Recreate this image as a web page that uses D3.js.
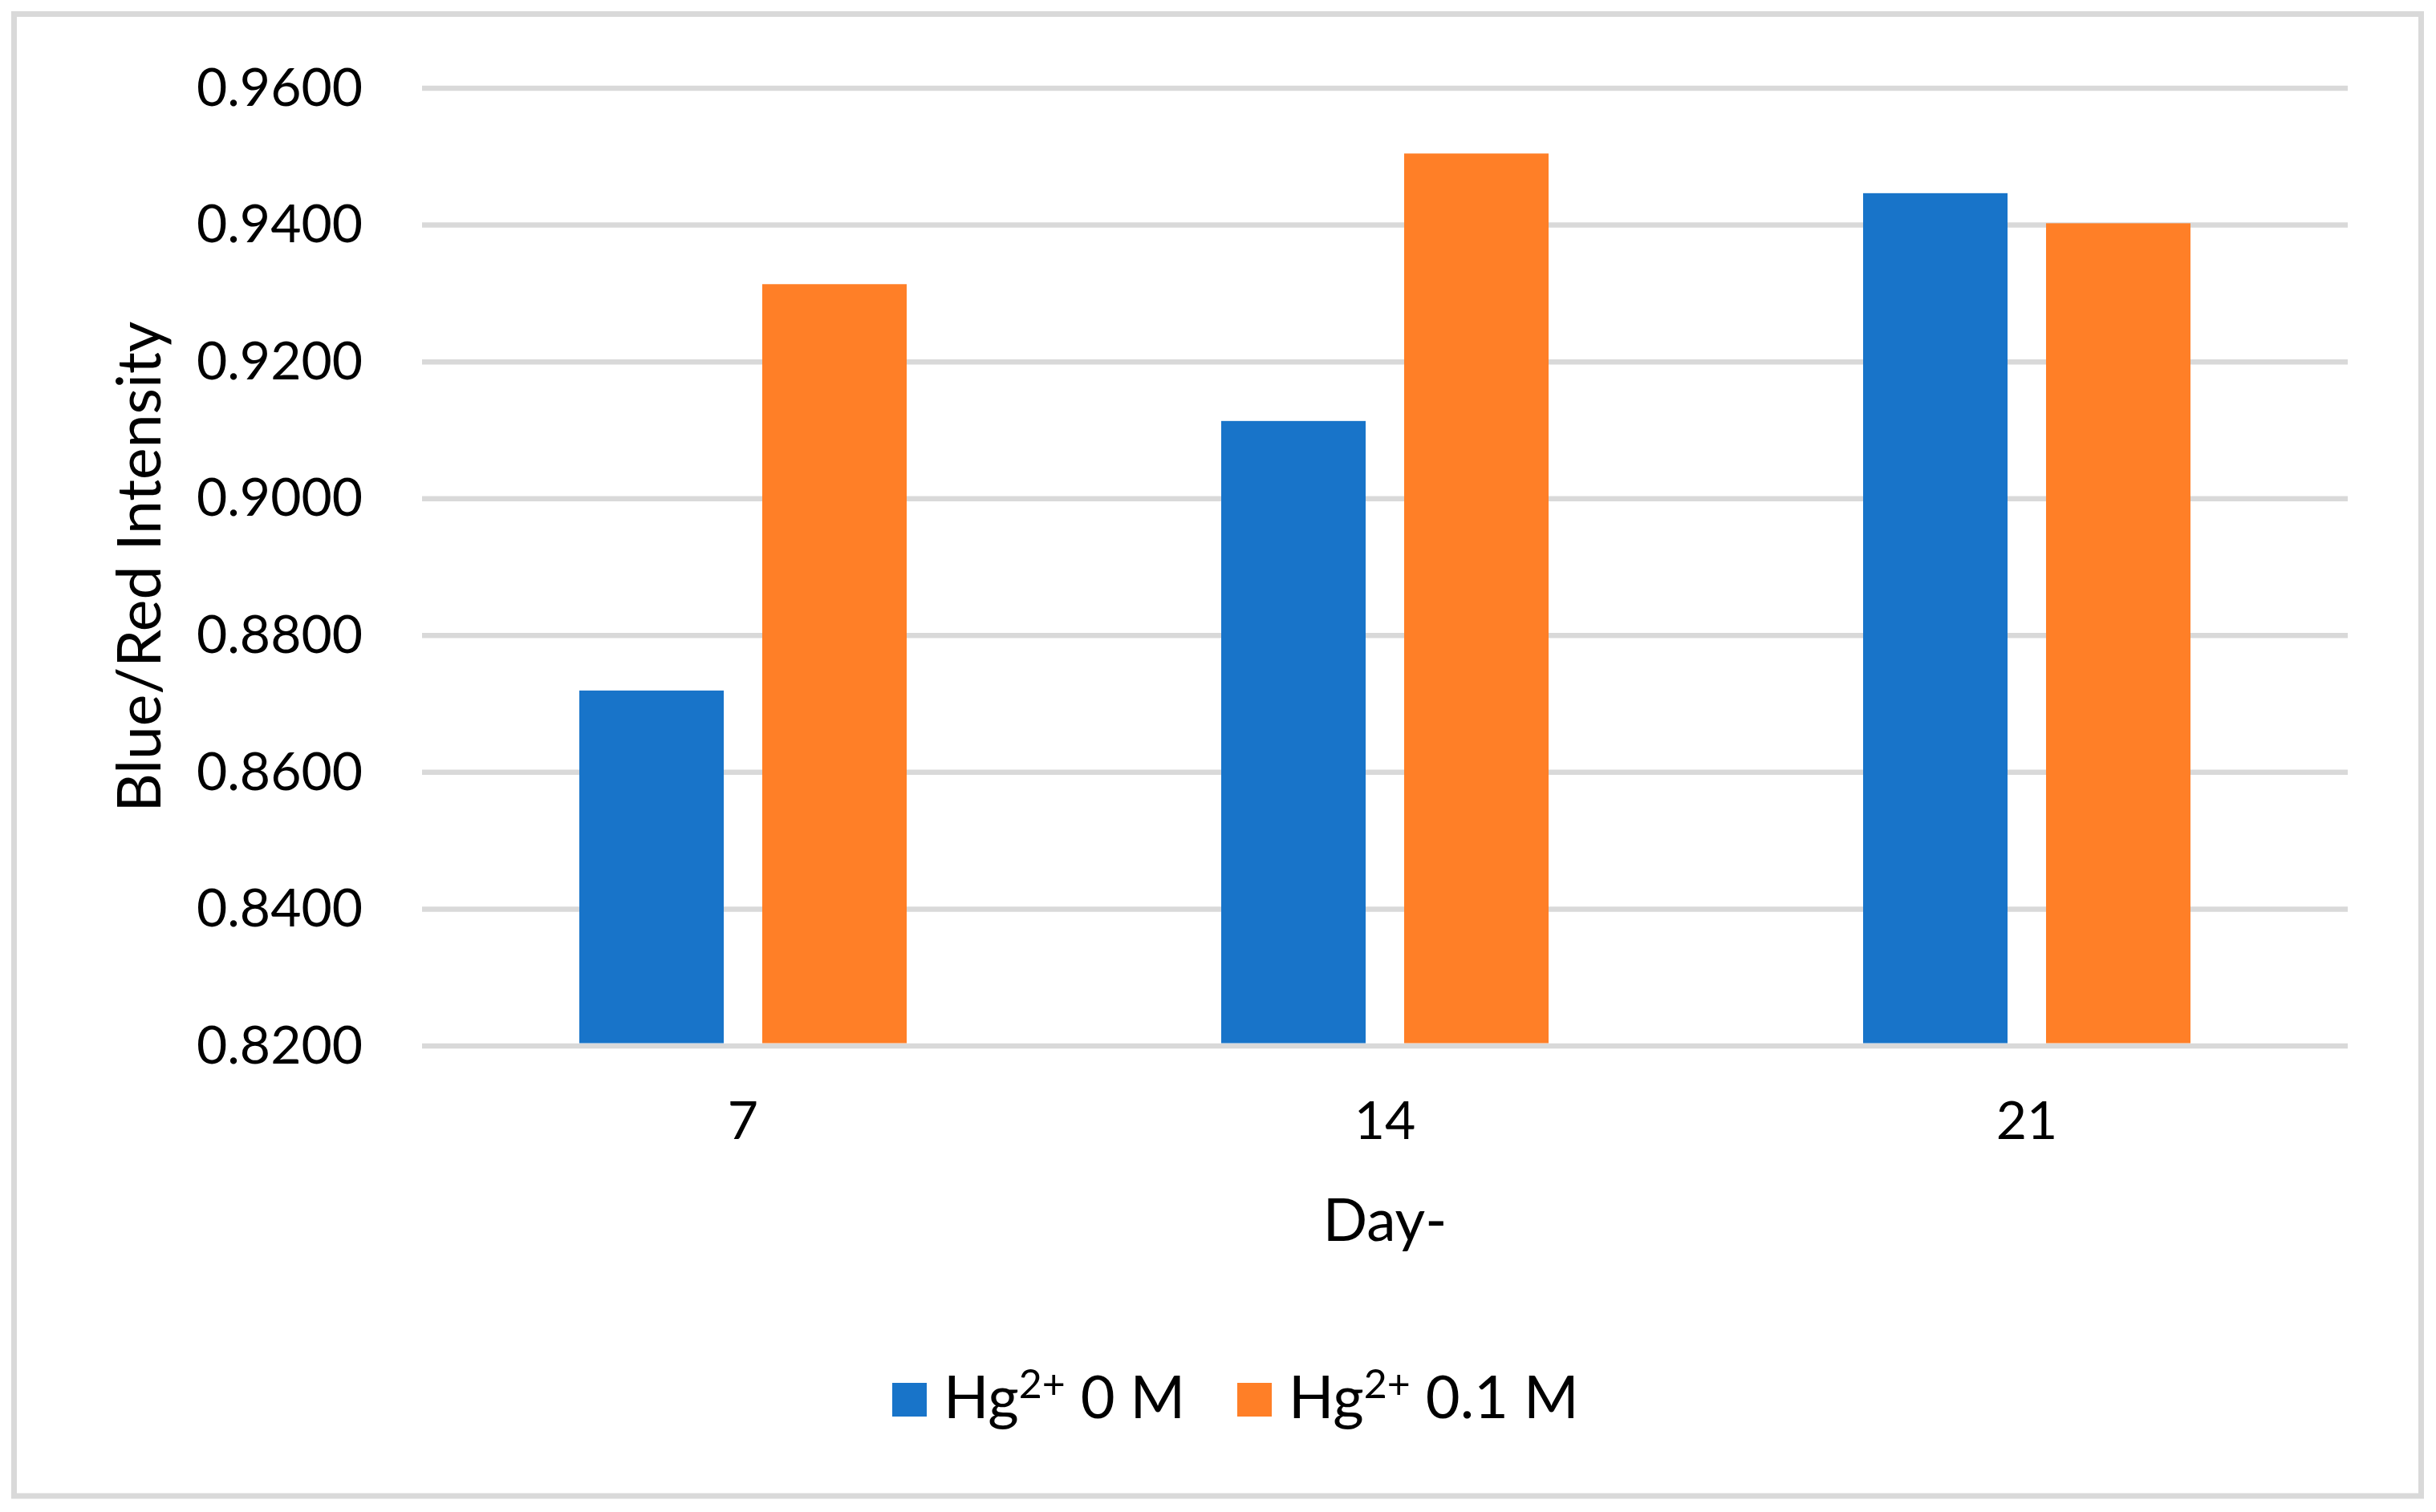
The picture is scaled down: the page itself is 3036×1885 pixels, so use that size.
<!DOCTYPE html>
<html>
<head>
<meta charset="utf-8">
<script src="https://cdn.jsdelivr.net/npm/d3@7"></script>
<style>
  html, body { margin: 0; padding: 0; background: #ffffff; }
  svg { display: block; }
  text { font-family: Lato, "Open Sans", "Liberation Sans", sans-serif; fill: #000; }
</style>
</head>
<body>
<svg id="chart" width="3036" height="1885"></svg>
<script>
// ---- data ----
const categories = ["7", "14", "21"];
const seriesNames = ["0 M", "0.1 M"];
const seriesHg0 = [0.8719, 0.9113, 0.9446];
const seriesHg01 = [0.9313, 0.9504, 0.9402];
const yTickValues = [0.82, 0.84, 0.86, 0.88, 0.90, 0.92, 0.94, 0.96];
const xTitle = "Day-";
const yTitle = "Blue/Red Intensity";

const colors = ["#1874c9", "#ff7f27"];
const seriesValues = [seriesHg0, seriesHg01];

const svg = d3.select("#chart");

// outer border
svg.append("rect")
  .attr("x", 17.5).attr("y", 17.5)
  .attr("width", 3000).attr("height", 1847.5)
  .attr("fill", "#ffffff")
  .attr("stroke", "#d9d9d9")
  .attr("stroke-width", 7);

const plot = { left: 526, right: 2926, top: 109.5, bottom: 1303.5 };

const y = d3.scaleLinear().domain([0.82, 0.96]).range([plot.bottom, plot.top]);
const x0 = d3.scaleBand().domain(categories).range([plot.left, plot.right])
  .paddingInner(0.49).paddingOuter(0.245);
const x1 = d3.scaleBand().domain([0, 1]).range([0, x0.bandwidth()])
  .paddingInner(0.2105).paddingOuter(0);

// gridlines
const yGrid = d3.axisLeft(y).tickValues(yTickValues)
  .tickSize(-(plot.right - plot.left)).tickFormat("");
const gGrid = svg.append("g").attr("transform", `translate(${plot.left},0)`).call(yGrid);
gGrid.select(".domain").remove();
gGrid.selectAll(".tick line").attr("stroke", "#d9d9d9").attr("stroke-width", 6.5);

// y tick labels
const yAxis = d3.axisLeft(y).tickValues(yTickValues).tickSize(0).tickPadding(74)
  .tickFormat(d3.format(".4f"));
const gY = svg.append("g").attr("transform", `translate(${plot.left},0)`).call(yAxis);
gY.select(".domain").remove();
gY.selectAll(".tick text")
  .attr("font-family", "Lato, 'Open Sans', sans-serif")
  .attr("font-size", 66).attr("fill", "#000")
  .attr("dy", "0.33em");

// bars
const groups = svg.append("g").selectAll("g")
  .data(categories).join("g")
  .attr("transform", d => `translate(${x0(d)},0)`);
groups.selectAll("rect")
  .data((d, i) => seriesValues.map((s, k) => ({ k, v: s[i] })))
  .join("rect")
  .attr("x", d => x1(d.k))
  .attr("width", x1.bandwidth())
  .attr("y", d => y(d.v))
  .attr("height", d => y(0.82) - y(d.v) - 3)
  .attr("fill", d => colors[d.k]);

// x axis labels
const xAxis = d3.axisBottom(x0).tickSize(0).tickPadding(70);
const gX = svg.append("g").attr("transform", `translate(0,${plot.bottom})`).call(xAxis);
gX.select(".domain").remove();
gX.selectAll(".tick text")
  .attr("font-family", "Lato, 'Open Sans', sans-serif")
  .attr("font-size", 66).attr("fill", "#000");

// axis titles
svg.append("text")
  .attr("x", (plot.left + plot.right) / 2).attr("y", 1547)
  .attr("text-anchor", "middle").attr("font-size", 73)
  .text(xTitle);

svg.append("text")
  .attr("transform", `translate(200,${(plot.top + plot.bottom) / 2}) rotate(-90)`)
  .attr("text-anchor", "middle").attr("font-size", 75)
  .text(yTitle);

// legend
const legendX = [1112, 1542];
seriesNames.forEach((name, i) => {
  const g = svg.append("g").attr("transform", `translate(${legendX[i]},0)`);
  g.append("rect").attr("x", 0).attr("y", 1724).attr("width", 43).attr("height", 42)
    .attr("fill", colors[i]);
  const t = g.append("text").attr("x", 64).attr("y", 1768).attr("font-size", 74);
  t.append("tspan").text("Hg");
  t.append("tspan").attr("font-size", 50).attr("dy", -25).text("2+");
  t.append("tspan").attr("dy", 25).text("\u00a0" + name);
});
</script>
</body>
</html>
